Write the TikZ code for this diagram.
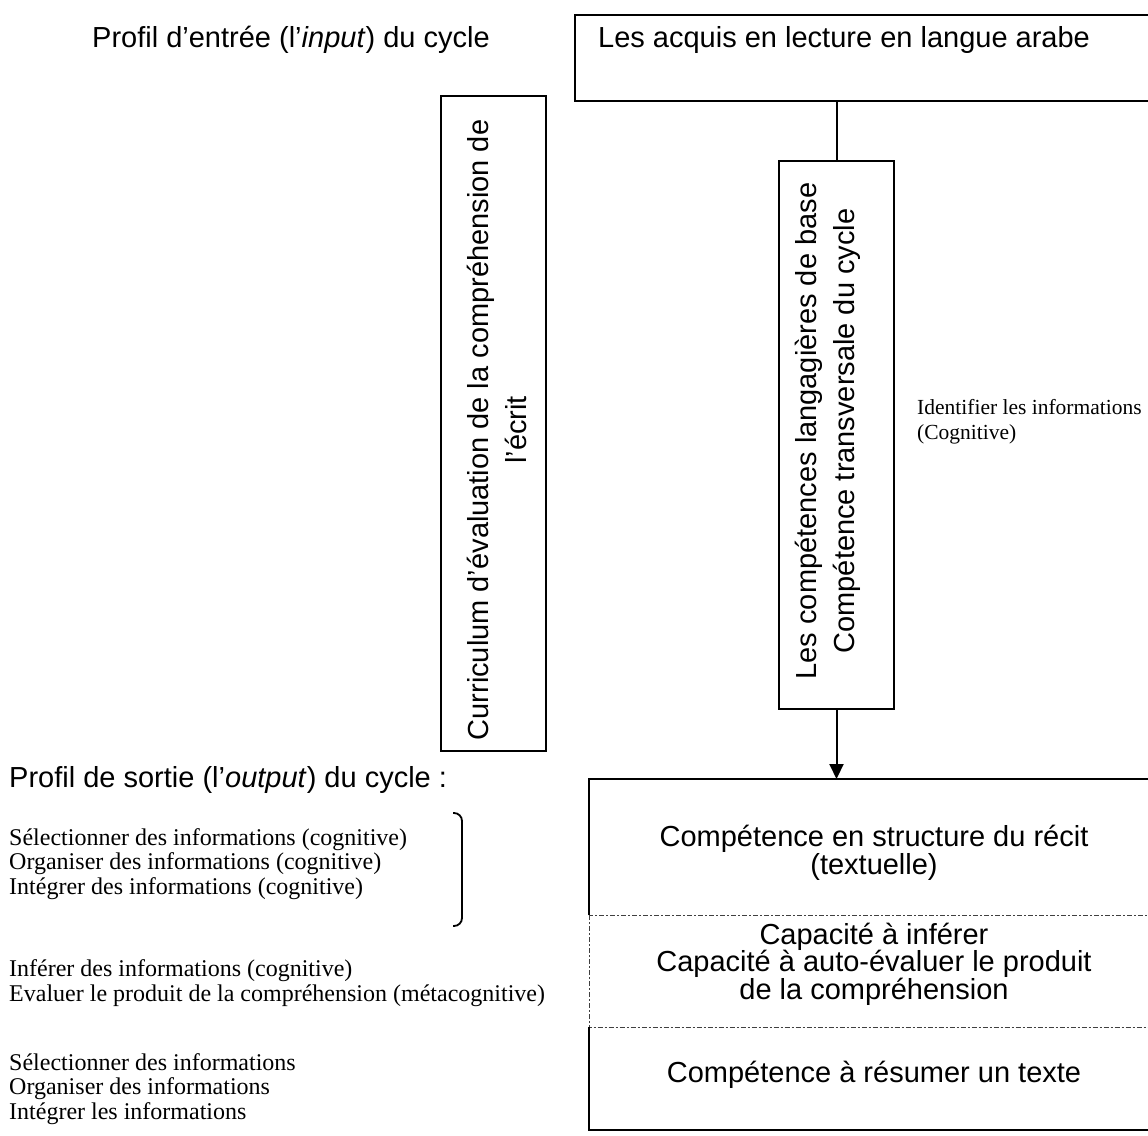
\documentclass[tikz,border=0pt]{standalone}
\usepackage{fontspec}
\setmainfont{Liberation Serif}
\newfontfamily\arialf{Liberation Sans}
\usetikzlibrary{arrows.meta}
\begin{document}
\begin{tikzpicture}[x=1pt,y=-1pt,
  sans/.style={font=\arialf\fontsize{29}{27.5}\selectfont, inner sep=0pt},
  rotsans/.style={font=\arialf\fontsize{29}{37.5}\selectfont, inner sep=0pt, rotate=90, align=center},
  serif/.style={font=\fontsize{24}{24.2}\selectfont, inner sep=0pt, align=left, anchor=base west},
  box/.style={line width=2pt, inner sep=0pt},
  thindash/.style={line width=0.9pt, dash pattern=on 5pt off 2pt on 2pt off 2pt, black!75},
]
\fill[white] (0,0) rectangle (1148,1135);
\useasboundingbox (0,0) rectangle (1148,1135);
\clip (0,0) rectangle (1148,1135);

% top left title
\node[sans, anchor=base west] (inT) at (92,47) {Profil d’entrée (l’\textit{input}) du cycle};

% top box
\node[box, draw, minimum width=586pt, minimum height=86pt, anchor=north west] (acquis) at (574,14) {};
\node[sans, anchor=base west] (acquisT) at (598,47) {Les acquis en lecture en langue arabe};

% curriculum box
\node[box, draw, minimum width=105pt, minimum height=655pt, anchor=north west] (curr) at (440,95) {};
\node[rotsans] (currT) at (497,430) {Curriculum d’évaluation de la compréhension de\\l’écrit};

% competences box
\node[box, draw, minimum width=115pt, minimum height=548pt, anchor=north west] (comp) at (778,160) {};
\node[rotsans] (compT) at (828,431) {Les compétences langagières de base\\Compétence transversale du cycle};

% identifier
\node[serif, font=\fontsize{21.5}{25}\selectfont] (ident) at (917,439) {Identifier les informations\\(Cognitive)};

% output title
\node[sans, anchor=base west] (outT) at (9,787) {Profil de sortie (l’\textit{output}) du cycle :};

% serif lists (anchor = baseline of last line)
\node[serif] (l1) at (9,894) {Sélectionner des informations (cognitive)\\Organiser des informations (cognitive)\\Intégrer des informations (cognitive)};
\node[serif] (l2) at (9,1001) {Inférer des informations (cognitive)\\Evaluer le produit de la compréhension (métacognitive)};
\node[serif] (l3) at (9,1119) {Sélectionner des informations\\Organiser des informations\\Intégrer les informations};

% bracket
\draw[line width=1.8pt, rounded corners=8pt] (453,813) -- (462,813) -- (462,926) -- (453,926);

% bottom stacked boxes
\node[inner sep=0pt, minimum width=571pt, minimum height=136pt, anchor=north west] (struct) at (589,779) {};
\node[inner sep=0pt, minimum width=571pt, minimum height=112pt, anchor=north west] (infer) at (589,915) {};
\node[inner sep=0pt, minimum width=571pt, minimum height=103pt, anchor=north west] (resume) at (589,1027) {};
\draw[box] (struct.south west) -- (struct.north west) -- (struct.north east) -- (struct.south east);
\draw[thindash] (infer.north west) rectangle (infer.south east);
\draw[box] (resume.north west) -- (resume.south west) -- (resume.south east) -- (resume.north east);

\node[sans, align=center] (structT) at (874,853) {Compétence en structure du récit\\(textuelle)};
\node[sans, align=center] (inferT) at (874,964) {Capacité à inférer\\Capacité à auto-évaluer le produit\\de la compréhension};
\node[sans] (resumeT) at (874,1075) {Compétence à résumer un texte};

% connectors
\draw[line width=2pt] (acquis.south -| comp.north) -- (comp.north);
\draw[line width=2pt, -{Triangle[length=15pt,width=14pt]}] (comp.south) -- (struct.north -| comp.south);
\end{tikzpicture}
\end{document}
